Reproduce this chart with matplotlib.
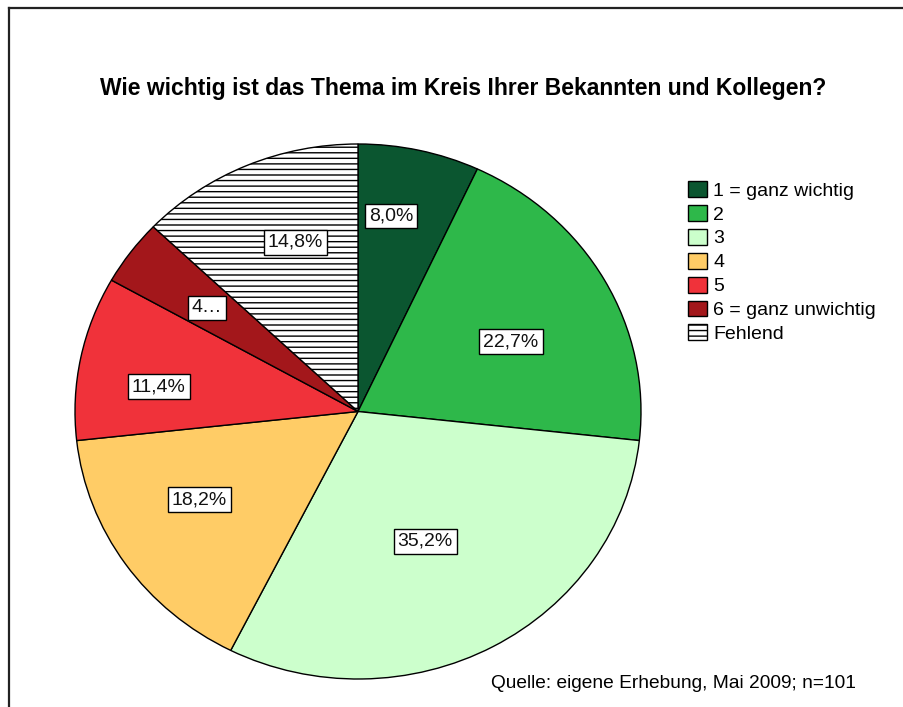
import matplotlib
matplotlib.use("Agg")
import matplotlib.pyplot as plt
from matplotlib.patches import Patch
import numpy as np

plt.rcParams['font.family'] = ['Liberation Sans', 'DejaVu Sans']

# data: answer counts (n=101), labels as printed in the chart
categories = ["1 = ganz wichtig", "2", "3", "4", "5", "6 = ganz unwichtig", "Fehlend"]
counts = [7, 20, 31, 16, 10, 4, 13]
pct_labels = ["8,0%", "22,7%", "35,2%", "18,2%", "11,4%", "4\u2026", "14,8%"]

# styles / label layout (radius fraction, angle shift in degrees)
colors = ["#0b5630", "#2eb84a", "#ccffcc", "#ffcc66", "#f0323a", "#a3171b", "white"]
hatches = [None, None, None, None, None, None, "---"]
label_dist = [0.74, 0.60, 0.54, 0.65, 0.71, 0.66, 0.67]
label_shift = [3.4, -3.7, -2.4, -4.3, 4.1, 0.6, -3.9]

W, H = 904, 707
fig = plt.figure(figsize=(W / 100, H / 100), dpi=100)

# pie is slightly wider than tall in the original -> stretch axes
left, right, top, bottom = 75, 641, 144, 679
ax = fig.add_axes([left / W, 1 - bottom / H, (right - left) / W, (bottom - top) / H])

wedges, _ = ax.pie(counts, colors=colors, startangle=90, counterclock=False,
                   wedgeprops=dict(edgecolor="black", linewidth=1.0))
for w, h in zip(wedges, hatches):
    w.set_clip_on(False)
    if h:
        w.set_hatch(h)
ax.set_aspect('auto')
ax.set_xlim(-1, 1)
ax.set_ylim(-1, 1)
ax.axis('off')

# labels inside the slices
for w, lab, d, s in zip(wedges, pct_labels, label_dist, label_shift):
    ang = np.deg2rad((w.theta1 + w.theta2) / 2 + s)
    ax.text(d * np.cos(ang), d * np.sin(ang), lab, ha="center", va="center",
            fontsize=14, color="#111111",
            bbox=dict(boxstyle="square,pad=0.2", fc="white", ec="black", lw=1.0))

fig.text(463 / W, 1 - 88 / H, "Wie wichtig ist das Thema im Kreis Ihrer Bekannten und Kollegen?",
         ha="center", va="center", fontsize=16.5, fontweight="bold")

handles = [Patch(facecolor=c, edgecolor="black", hatch=h) for c, h in zip(colors, hatches)]
fig.legend(handles, categories, loc="upper left", bbox_to_anchor=(688 / W, 1 - 181 / H),
           frameon=False, fontsize=14, handlelength=1.0, handleheight=0.88,
           handletextpad=0.3, labelspacing=0.27, borderpad=0, borderaxespad=0)

fig.text(856 / W, 1 - 683 / H, "Quelle: eigene Erhebung, Mai 2009; n=101",
         ha="right", va="center", fontsize=13.8)

# outer frame lines (top and left only)
fig.add_artist(plt.Line2D([9 / W, 1], [1 - 8 / H, 1 - 8 / H], color="#222222", lw=1.6))
fig.add_artist(plt.Line2D([9 / W, 9 / W], [0, 1 - 8 / H], color="#222222", lw=1.6))

fig.savefig("out.png", dpi=100)
